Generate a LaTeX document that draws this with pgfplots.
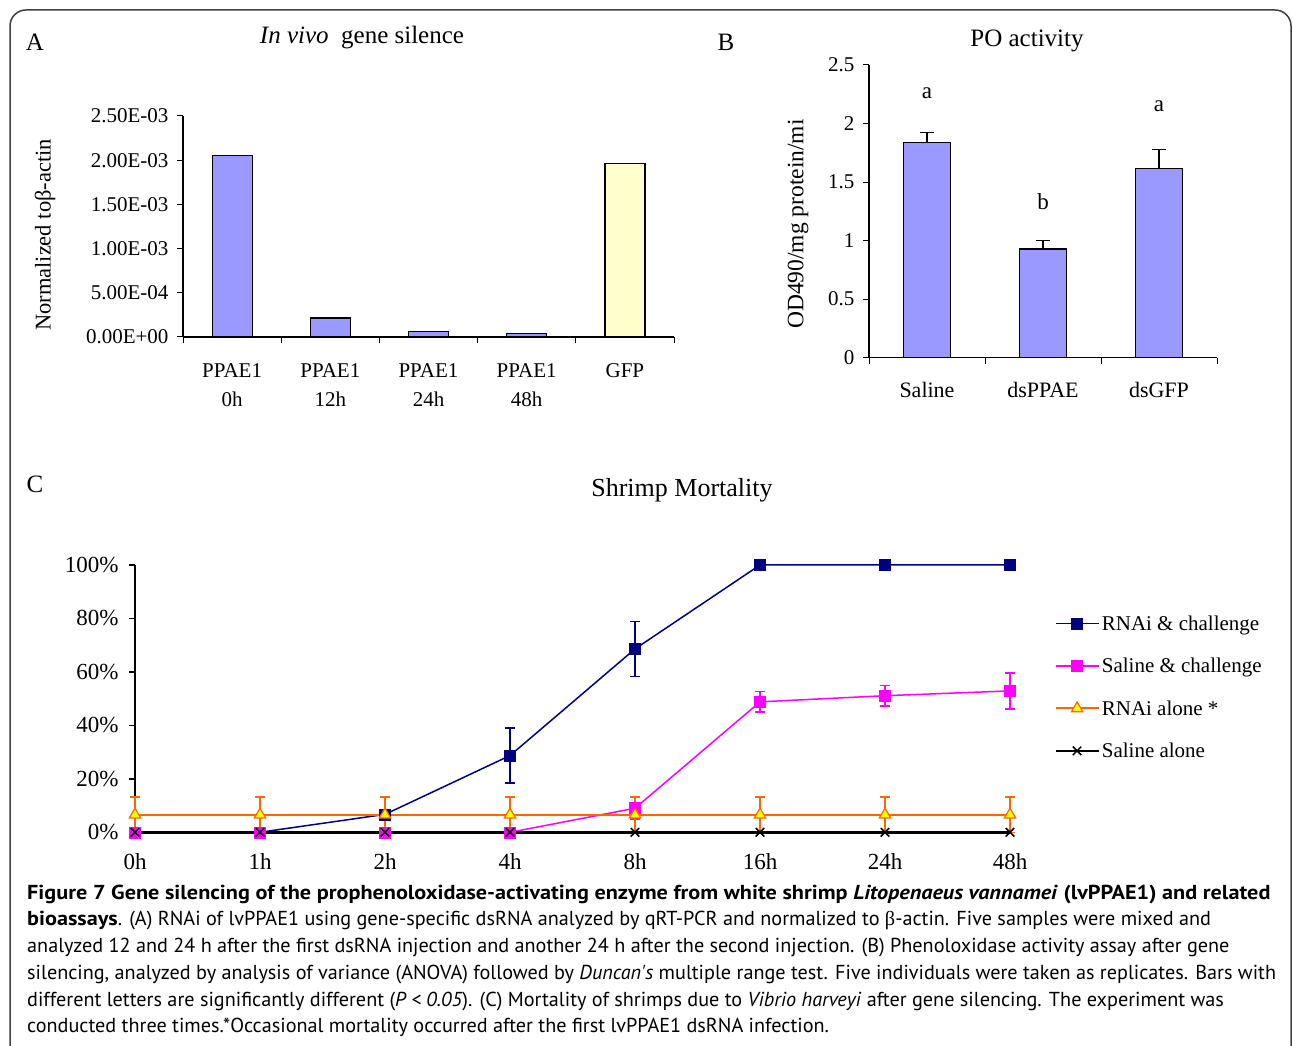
\documentclass[border=0pt]{standalone}
\usepackage{fontspec}
\setmainfont{Liberation Serif}
\newfontfamily\capfont[BoldFeatures={FakeStretch=1.1},BoldItalicFeatures={FakeStretch=1.1}]{PT Sans}
\usepackage{pgfplots}
\pgfplotsset{compat=1.18}
\definecolor{barblue}{RGB}{153,153,255}
\definecolor{baryel}{RGB}{255,255,204}
\definecolor{navyc}{RGB}{0,0,128}
\definecolor{magc}{RGB}{255,0,255}
\definecolor{orc}{RGB}{255,102,0}
\definecolor{yelc}{RGB}{255,255,0}
\newcommand\fs[2]{\fontsize{#1}{#2}\selectfont}
\begin{document}
\begin{tikzpicture}[x=1pt,y=1pt]
\useasboundingbox (0,0) rectangle (1293,1046);
\coordinate (pA) at (183,709);
\coordinate (pB) at (869,688.3);
\coordinate (pC) at (135,213.7);
\draw[line width=1.5pt, rounded corners=16pt, color=black!75] (10,-40) -- (10,1036) -- (1291,1036) -- (1291,-40);
% panel letters and titles
\node[font=\fs{25}{30}] at (35,1004) {A};
\node[font=\fs{25}{30}] at (726,1004) {B};
\node[font=\fs{25}{30}] at (35,562) {C};
\node[font=\fs{25}{30}] at (362,1008) {\textit{In vivo}\ \ gene silence};
\node[font=\fs{25}{30}] at (1027,1005) {PO activity};
\node[font=\fs{26}{30}] at (682,556) {Shrimp Mortality};
\node[font=\fs{22.5}{26},rotate=90] at (45,811) {Normalized toβ-actin};
\node[font=\fs{23.5}{27},rotate=90] at (798,822) {OD490/mg protein/mi};

% Panel A
\begin{axis}[
  at={(pA)}, anchor=south west, scale only axis,
  width=491pt, height=221pt,
  xmin=-0.5, xmax=4.5, ymin=0, ymax=0.0025,
  axis x line*=bottom, axis y line*=left,
  axis line style={line width=1.2pt},
  every tick/.style={black, line width=1pt},
  major tick length=6pt,
  xtick align=inside, ytick align=outside,
  xtick={-0.5,0.5,1.5,2.5,3.5,4.5},
  x tick label as interval,
  xticklabels={{PPAE1\\0h},{PPAE1\\12h},{PPAE1\\24h},{PPAE1\\48h},{GFP}},
  x tick label style={align=center, font=\fs{21}{29}, anchor=north, yshift=-17pt},
  ytick={0,0.0005,0.001,0.0015,0.002,0.0025},
  yticklabels={0.00E+00,5.00E-04,1.00E-03,1.50E-03,2.00E-03,2.50E-03},
  scaled y ticks=false,
  y tick label style={font=\fs{21}{25}, xshift=-5pt},
  ybar, bar width=40pt,
]
\addplot[fill=barblue, draw=black, line width=1.2pt, bar shift=0pt] coordinates {(0,0.002056) (1,0.000214) (2,0.000060) (3,0.000041)};
\addplot[fill=baryel, draw=black, line width=1.2pt, bar shift=0pt] coordinates {(4,0.001959)};
\end{axis}

% Panel B
\begin{axis}[
  at={(pB)}, anchor=south west, scale only axis,
  width=348pt, height=292.7pt,
  xmin=-0.5, xmax=2.5, ymin=0, ymax=2.5,
  axis x line*=bottom, axis y line*=left,
  axis line style={line width=1.2pt},
  every tick/.style={black, line width=1pt},
  major tick length=6pt,
  xtick align=inside, ytick align=outside,
  xtick={-0.5,0.5,1.5,2.5},
  x tick label as interval,
  xticklabels={Saline,dsPPAE,dsGFP},
  x tick label style={font=\fs{22}{26}, anchor=north, yshift=-15pt},
  ytick={0,0.5,1,1.5,2,2.5},
  yticklabels={0,0.5,1,1.5,2,2.5},
  y tick label style={font=\fs{21}{25}, xshift=-5pt},
  ybar, bar width=47pt, clip=false,
]
\addplot[fill=barblue, draw=black, line width=1.2pt, bar shift=0pt,
  error bars/.cd, y dir=plus, y explicit,
  error bar style={black, line width=1.5pt},
  error mark options={black, line width=1.5pt, mark size=7pt, rotate=90}]
  coordinates {(0,1.837) +- (0,0.088) (1,0.928) +- (0,0.074) (2,1.614) +- (0,0.163)};
\node[font=\fs{23}{26}] at (axis cs:0,2.26) {a};
\node[font=\fs{23}{26}] at (axis cs:1,1.33) {b};
\node[font=\fs{23}{26}] at (axis cs:2,2.15) {a};
\end{axis}

% Panel C
\begin{axis}[
  at={(pC)}, anchor=south west, scale only axis,
  width=875pt, height=267.3pt,
  xmin=0, xmax=7, ymin=0, ymax=100,
  axis x line*=bottom, axis y line*=left,
  axis line style={line width=2pt},
  every tick/.style={black, line width=1.5pt},
  major tick length=6pt,
  ytick align=outside,
  xtick={0,1,2,3,4,5,6,7},
  xticklabels={0h,1h,2h,4h,8h,16h,24h,48h},
  major x tick style={draw=none},
  x tick label style={font=\fs{23}{26}, anchor=north, yshift=-18pt},
  ytick={0,20,40,60,80,100},
  yticklabels={0\%,20\%,40\%,60\%,80\%,100\%},
  y tick label style={font=\fs{23}{26}, xshift=-7pt},
  clip=false,
  legend style={at={(1.047,0.826)}, anchor=north west, draw=none, fill=none,
    font=\fs{21}{25}, row sep=22.3pt, cells={anchor=west}},
  legend image code/.code={\draw[mark repeat=2,mark phase=2,#1] plot coordinates {(0pt,0pt) (21.5pt,0pt) (43pt,0pt)};},
]
\addplot[navyc, line width=1.5pt, mark=square*, mark size=5.5pt,
  mark options={fill=navyc, draw=navyc, line width=0.5pt},
  error bars/.cd, y dir=both, y explicit,
  error bar style={navyc, line width=1.5pt},
  error mark options={navyc, line width=1.5pt, mark size=5pt, rotate=90}]
  coordinates {(0,0) (1,0) (2,6.7) +- (0,6.6) (3,28.7) +- (0,10.3) (4,68.6) +- (0,10.3) (5,100) (6,100) (7,100)};
\addlegendentry{RNAi \& challenge}
\addplot[magc, line width=1.5pt, mark=square*, mark size=5.5pt,
  mark options={fill=magc, draw=magc, line width=0.5pt},
  error bars/.cd, y dir=both, y explicit,
  error bar style={magc, line width=1.5pt},
  error mark options={magc, line width=1.5pt, mark size=5pt, rotate=90}]
  coordinates {(0,0) (1,0) (2,0) (3,0) (4,9.0) +- (0,4.0) (5,48.8) +- (0,3.8) (6,51.1) +- (0,3.9) (7,52.9) +- (0,6.7)};
\addlegendentry{Saline \& challenge}
\addplot[orc, line width=2pt, mark=triangle*, mark size=6.5pt,
  mark options={fill=yelc, draw=orc, line width=1.2pt},
  error bars/.cd, y dir=both, y explicit,
  error bar style={orc, line width=1.5pt},
  error mark options={orc, line width=1.5pt, mark size=5pt, rotate=90}]
  coordinates {(0,6.6) +- (0,6.6) (1,6.6) +- (0,6.6) (2,6.6) +- (0,6.6) (3,6.6) +- (0,6.6) (4,6.6) +- (0,6.6) (5,6.6) +- (0,6.6) (6,6.6) +- (0,6.6) (7,6.6) +- (0,6.6)};
\addlegendentry{RNAi alone *}
\addplot[black, line width=2.5pt, mark=x, mark size=6pt, mark options={line width=1.5pt}]
  coordinates {(0,0) (1,0) (2,0) (3,0) (4,0) (5,0) (6,0) (7,0)};
\addlegendentry{Saline alone}
\end{axis}

% caption
\begin{scope}[every node/.style={anchor=base west, inner sep=0pt, font=\capfont\fs{20.2}{24}}]
\node at (27,146) {\bfseries Figure 7 Gene silencing of the prophenoloxidase-activating enzyme from white shrimp \textit{Litopenaeus vannamei} (lvPPAE1) and related};
\node at (27,120) {\textbf{bioassays}. (A) RNAi of lvPPAE1 using gene-specific dsRNA analyzed by qRT-PCR and normalized to {\rmfamily β}-actin. Five samples were mixed and};
\node at (27,93) {analyzed 12 and 24 h after the first dsRNA injection and another 24 h after the second injection. (B) Phenoloxidase activity assay after gene};
\node at (27,66) {silencing, analyzed by analysis of variance (ANOVA) followed by \textit{Duncan's} multiple range test. Five individuals were taken as replicates. Bars with};
\node at (27,39) {different letters are significantly different (\textit{P < 0.05}). (C) Mortality of shrimps due to \textit{Vibrio harveyi} after gene silencing. The experiment was};
\node at (27,13) {conducted three times.*Occasional mortality occurred after the first lvPPAE1 dsRNA infection.};
\end{scope}
\end{tikzpicture}
\end{document}
